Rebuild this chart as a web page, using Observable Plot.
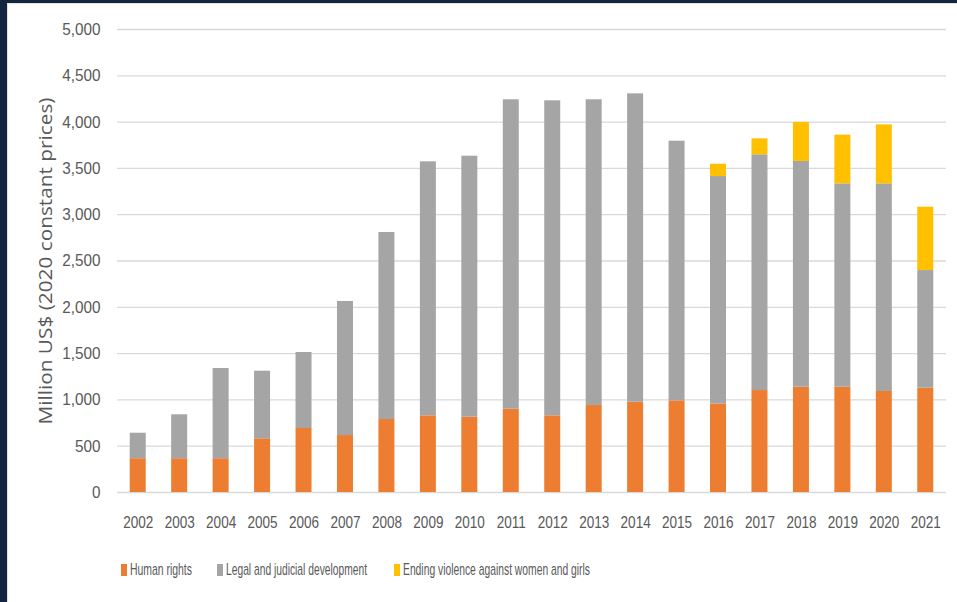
<!DOCTYPE html>
<html><head><meta charset="utf-8">
<script src="https://cdn.jsdelivr.net/npm/d3@7"></script>
<script src="https://cdn.jsdelivr.net/npm/@observablehq/plot@0.6"></script>
<style>
html,body{margin:0;padding:0;background:#fff;}
#wrap{position:relative;width:957px;height:602px;overflow:hidden;background:#fff;font-family:"Liberation Sans",Arial,sans-serif;}
#chart{position:absolute;left:0;top:0;}
.frameL{position:absolute;left:0;top:0;width:7px;height:602px;background:#14253f;}
.frameT{position:absolute;left:0;top:0;width:957px;height:3px;background:#14253f;}
.inner{position:absolute;left:7px;top:3px;width:957px;height:602px;border-left:1px solid #e2e2e2;border-top:1px solid #e2e2e2;}
.leg{position:absolute;top:560px;font-size:17px;color:#595959;line-height:20px;white-space:nowrap;transform-origin:0 50%;}
.sw{position:absolute;width:6px;height:12px;top:564px;}
</style></head><body>
<div id="wrap">
  <div id="chart"></div>
  <div class="inner"></div>
  <div class="frameL"></div>
  <div class="frameT"></div>
</div>
<script>
const years = ["2002","2003","2004","2005","2006","2007","2008","2009","2010","2011","2012","2013","2014","2015","2016","2017","2018","2019","2020","2021"];
const humanRights    = [365, 365, 365, 580, 691, 615, 788, 828, 813, 900, 828, 940, 975, 990, 954, 1101, 1137, 1137, 1091, 1127];
const legalJudicial  = [275, 474, 974, 730, 821, 1448, 2020, 2743, 2819, 3341, 3402, 3301, 3330, 2804, 2458, 2546, 2438, 2196, 2242, 1270];
const endingViolence = [0, 0, 0, 0, 0, 0, 0, 0, 0, 0, 0, 0, 0, 0, 133, 172, 421, 526, 637, 684];
const seriesNames = ["Human rights", "Legal and judicial development", "Ending violence against women and girls"];
const seriesColors = ["#ed7d31", "#a5a5a5", "#ffc000"];
const yTicks = [0, 500, 1000, 1500, 2000, 2500, 3000, 3500, 4000, 4500, 5000];
const yAxisTitle = "Million US$ (2020 constant prices)";

const rows = [];
[humanRights, legalJudicial, endingViolence].forEach((vals, si) =>
  vals.forEach((v, i) => { if (v > 0) rows.push({year: years[i], series: seriesNames[si], value: v}); })
);

const chart = Plot.plot({
  width: 957, height: 540,
  marginTop: 29, marginBottom: 48, marginLeft: 117, marginRight: 11,
  style: {fontFamily: "'Liberation Sans', Arial, sans-serif", background: "transparent", color: "#595959"},
  x: {domain: years, paddingInner: 0.614, paddingOuter: 0.307, round: false, label: null},
  y: {domain: [0, 5000], label: null},
  color: {domain: seriesNames, range: seriesColors},
  marks: [
    Plot.ruleY(yTicks, {stroke: "#d9d9d9", strokeWidth: 1.3}),
    Plot.barY(rows, {x: "year", y: "value", fill: "series", order: seriesNames}),
    Plot.axisY(yTicks, {tickSize: 0, tickPadding: 17, fontSize: 17, tickFormat: d3.format(","), fill: "#595959", label: null}),
    Plot.axisX({tickSize: 0, tickPadding: 24, fontSize: 16.5, fill: "#595959", label: null}),
    Plot.text([yAxisTitle], {frameAnchor: "left", text: d => d, rotate: -90, dx: -71, textAnchor: "middle", fontSize: 18.5, fontFamily: "Open Sans", fill: "#595959"})
  ]
});
document.getElementById("chart").appendChild(chart);

// condense glyphs horizontally like the reference's narrow type
function condense(selector, factor) {
  chart.querySelectorAll(selector).forEach(t => {
    const w = t.getComputedTextLength();
    t.setAttribute("textLength", (w * factor).toFixed(2));
    t.setAttribute("lengthAdjust", "spacingAndGlyphs");
  });
}
condense('g[aria-label="x-axis tick label"] text', 0.82);
condense('g[aria-label="y-axis tick label"] text', 0.9);
chart.querySelectorAll("text").forEach(t => {
  if (t.textContent === yAxisTitle) {
    t.setAttribute("textLength", "327");
    t.setAttribute("lengthAdjust", "spacingAndGlyphs");
  }
});

const legendX = [121, 217, 394];
const legendTextW = [62, 141, 187];
const wrap = document.getElementById("wrap");
seriesNames.forEach((name, i) => {
  const sw = document.createElement("div");
  sw.className = "sw"; sw.style.left = legendX[i] + "px"; sw.style.background = seriesColors[i];
  wrap.appendChild(sw);
  const t = document.createElement("div");
  t.className = "leg"; t.style.left = (legendX[i] + 9) + "px"; t.textContent = name;
  wrap.appendChild(t);
  const w = t.getBoundingClientRect().width;
  t.style.transform = "scaleX(" + (legendTextW[i] / w).toFixed(3) + ")";
});
</script>
</body></html>
